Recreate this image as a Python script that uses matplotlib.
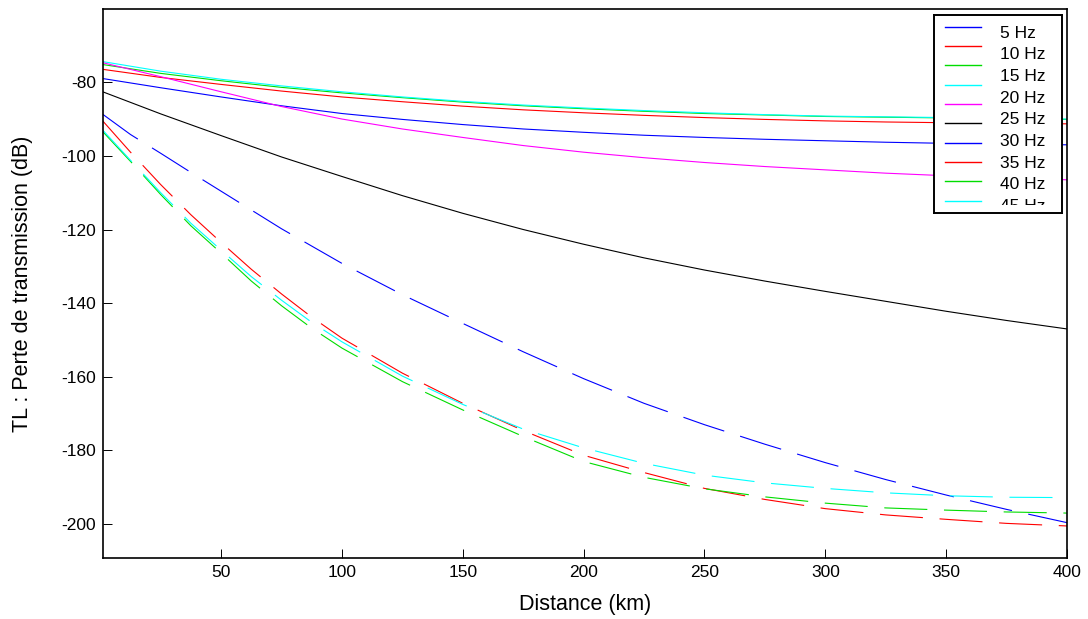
import matplotlib
matplotlib.use("Agg")
import matplotlib.pyplot as plt
from matplotlib.patches import Rectangle

plt.rcParams['font.family'] = ['Liberation Sans', 'DejaVu Sans']
plt.rcParams['lines.scale_dashes'] = False
plt.rcParams['axes.unicode_minus'] = False

distance_km = [1, 25, 50, 75, 100, 125, 150, 175, 200, 225, 250, 275, 300, 325, 350, 375, 400]
distance_dash = [1, 12.5, 25, 37.5, 50, 62.5, 75, 87.5, 100, 125, 150, 175, 200, 225, 250,
                 275, 300, 325, 350, 375, 400]

labels = ["5 Hz", "10 Hz", "15 Hz", "20 Hz", "25 Hz", "30 Hz", "35 Hz", "40 Hz", "45 Hz", "50 Hz"]
colors = ["#0000ff", "#ff0000", "#00dd00", "#00ffff", "#ff00ff", "#000000",
          "#0000ff", "#ff0000", "#00dd00", "#00ffff"]

# solid curves (values on distance_km)
tl_blue = [-79.0, -81.5, -84.0, -86.4, -88.5, -90.1, -91.5, -92.7, -93.6, -94.4, -95.0,
           -95.5, -95.9, -96.3, -96.6, -96.8, -97.0]
tl_red = [-76.5, -78.7, -80.6, -82.4, -84.0, -85.3, -86.5, -87.5, -88.3, -89.0, -89.6,
          -90.1, -90.5, -90.8, -91.0, -91.2, -91.3]
tl_green = [-75.2, -77.6, -79.6, -81.4, -82.9, -84.2, -85.4, -86.4, -87.2, -87.9, -88.5,
            -88.9, -89.3, -89.5, -89.7, -89.9, -90.1]
tl_cyan = [-74.4, -77.0, -79.2, -81.0, -82.6, -84.0, -85.2, -86.2, -87.0, -87.7, -88.3,
           -88.8, -89.2, -89.4, -89.6, -89.8, -90.0]
tl_magenta = [-74.7, -78.5, -82.6, -86.6, -90.0, -92.7, -95.0, -97.2, -99.0, -100.5, -101.8,
              -102.9, -103.8, -104.7, -105.4, -106.0, -106.5]
tl_black = [-82.6, -88.6, -94.5, -100.3, -105.6, -110.8, -115.6, -120.0, -124.0, -127.7,
            -131.0, -134.0, -136.8, -139.5, -142.2, -144.7, -147.0]

# dashed curves (values on distance_dash)
tl_blue_d = [-88.7, -94.2, -99.3, -104.5, -109.6, -114.7, -119.8, -124.5, -129.2, -137.7,
             -145.5, -153.2, -160.5, -167.2, -173.0, -178.3, -183.3, -187.9, -192.1, -196.0,
             -199.6]
tl_red_d = [-90.5, -99.0, -107.8, -116.0, -123.5, -130.8, -137.5, -143.8, -149.5, -159.0,
            -167.2, -174.6, -181.3, -186.0, -190.3, -193.3, -195.8, -197.5, -198.7, -199.8,
            -200.5]
tl_green_d = [-93.4, -101.5, -110.5, -119.0, -126.4, -134.0, -140.7, -146.8, -152.2, -161.3,
              -169.0, -176.2, -183.0, -187.3, -190.4, -192.6, -194.3, -195.6, -196.2, -196.7,
              -197.0]
tl_cyan_d = [-93.0, -101.2, -110.0, -118.3, -125.6, -132.8, -139.2, -145.2, -150.5, -159.8,
             -167.5, -174.2, -179.3, -183.5, -186.7, -188.8, -190.3, -191.5, -192.3, -192.7,
             -192.8]

solid_series = [tl_blue, tl_red, tl_green, tl_cyan, tl_magenta, tl_black]
dashed_series = [tl_blue_d, tl_red_d, tl_green_d, tl_cyan_d]

xticks = [50, 100, 150, 200, 250, 300, 350, 400]
yticks = [-200, -180, -160, -140, -120, -100, -80]

W, H = 1088, 619
fig = plt.figure(figsize=(W / 100, H / 100), dpi=100)
ax = fig.add_axes([102.7 / W, 1 - 558 / H, (1067 - 102.7) / W, (558 - 9.3) / H])

dash = (0, (31, 12))
lw = 0.8
for i, s in enumerate(solid_series):
    ax.plot(distance_km, s, color=colors[i], lw=lw)
for j, s in enumerate(dashed_series):
    ax.plot(distance_dash, s, color=colors[6 + j], lw=lw, linestyle=dash)

ax.set_xlim(1, 400)
ax.set_ylim(-209.2, -60.2)
ax.set_xticks(xticks)
ax.set_yticks(yticks)
ax.tick_params(direction='in', length=6.5, width=0.7, labelsize=12.5, pad=5)
for sp in ax.spines.values():
    sp.set_linewidth(1.2)
ax.set_xlabel("Distance (km)", fontsize=15.5)
ax.set_ylabel("TL : Perte de transmission (dB)", fontsize=15.5)
ax.xaxis.set_label_coords(0.5, -0.066)
ax.yaxis.set_label_coords(-0.072, 0.5)

# legend box (clipped, as in the original)
lx0, lx1, ly0, ly1 = 934, 1062, 15, 213
lax = fig.add_axes([lx0 / W, 1 - ly1 / H, (lx1 - lx0) / W, (ly1 - ly0) / H])
lax.set_xlim(0, lx1 - lx0)
lax.set_ylim(ly1 - ly0, 0)
lax.set_xticks([])
lax.set_yticks([])
for sp in lax.spines.values():
    sp.set_linewidth(1.4)
clip_rect = Rectangle((0, 0), lx1 - lx0, 190, transform=lax.transData, visible=False)
lax.add_patch(clip_rect)
for i, lab in enumerate(labels):
    yl = 11.7 + 19.33 * i
    lax.plot([11, 46.7], [yl, yl], color=colors[i], lw=1.0, clip_on=True)
    yt = 18.3 + 21.67 * i
    t = lax.text(66, yt, lab, fontsize=12.5, va='center', ha='left', clip_on=True)
    t.set_clip_path(clip_rect)

fig.savefig("out.png", dpi=100)
